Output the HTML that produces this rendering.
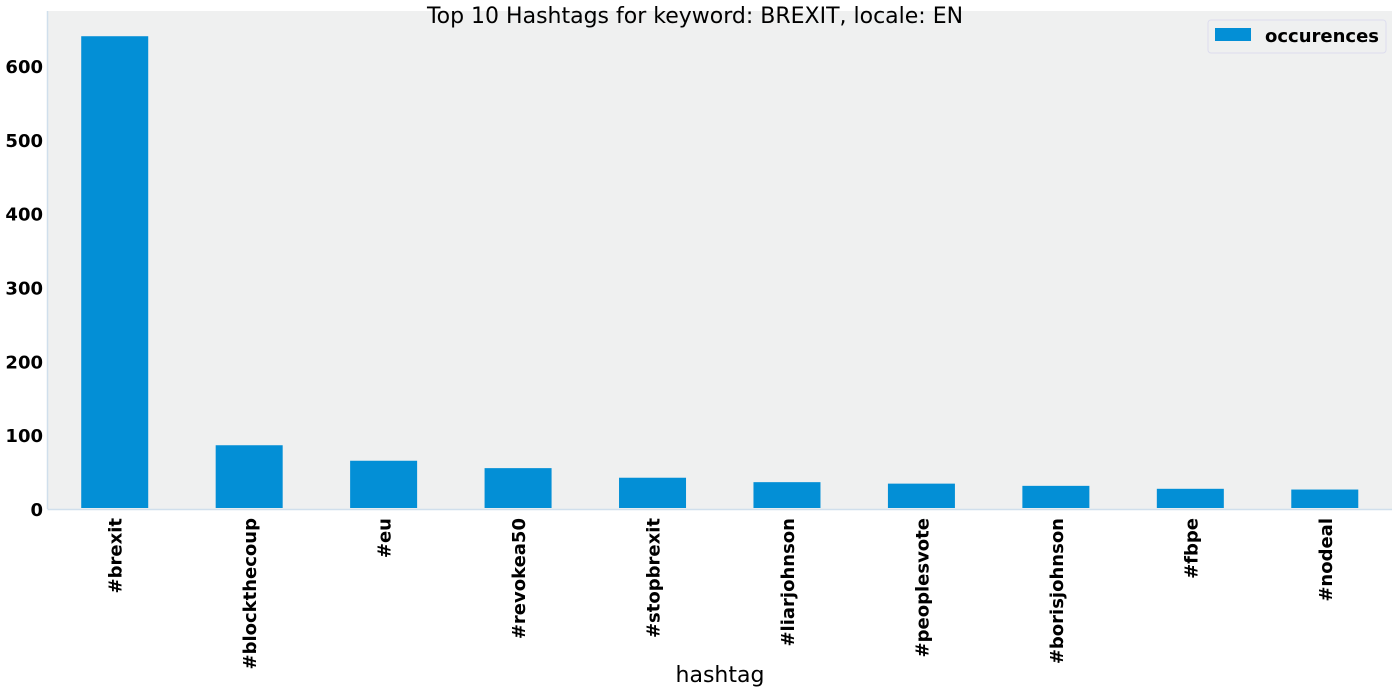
<!DOCTYPE html>
<html><head><meta charset="utf-8"><style>
body{margin:0;background:#fff;}
svg text{font-family:"DejaVu Sans","Liberation Sans",sans-serif;}
</style></head><body>
<svg id="chart" width="1400" height="693" xmlns="http://www.w3.org/2000/svg">
<rect x="47.5" y="11" width="1344.5" height="498" fill="#eff0f0"/>
<line x1="47.5" y1="11" x2="47.5" y2="509" stroke="#d0dfec" stroke-width="1.5"/>
<line x1="47.5" y1="509.5" x2="1392" y2="509.5" stroke="#d0dfec" stroke-width="1.5"/>
<g id="bars"></g><g id="yticks"></g><g id="xticks"></g>
<text x="695" y="23" font-size="22" text-anchor="middle" fill="#000">Top 10 Hashtags for keyword: BREXIT, locale: EN</text>
<text x="720" y="682" font-size="22" text-anchor="middle" fill="#000">hashtag</text>
<g>
<rect x="1208" y="20" width="178" height="33" rx="3" fill="#eff0f0" stroke="#dde" stroke-width="1"/>
<rect x="1215" y="28" width="36" height="13" fill="#038fd6"/>
<text x="1265" y="42" font-size="18" font-weight="bold" fill="#000">occurences</text>
</g>
</svg>
<script>
const categories=["#brexit","#blockthecoup","#eu","#revokea50","#stopbrexit","#liarjohnson","#peoplesvote","#borisjohnson","#fbpe","#nodeal"];
const values=[639,85,64,54,41,35,33,30,26,25];
const yTicks=[0,100,200,300,400,500,600];
const NS="http://www.w3.org/2000/svg";
const x0=47.5,step=134.45,y0=508,scale=0.7383,bw=67;
function xs(i){return x0+step*(i+0.5);}
function ys(v){return y0-v*scale;}
const bars=document.getElementById('bars'),yt=document.getElementById('yticks'),xt=document.getElementById('xticks');
values.forEach((v,i)=>{
const r=document.createElementNS(NS,'rect');


r.setAttribute('x',xs(i)-bw/2);r.setAttribute('y',ys(v));r.setAttribute('width',bw);r.setAttribute('height',y0-ys(v));r.setAttribute('fill','#038fd6');
bars.appendChild(r);
const t=document.createElementNS(NS,'text');


const cx=xs(i)+7,cy=518;
t.setAttribute('x',cx);t.setAttribute('y',cy);t.setAttribute('transform','rotate(-90 '+cx+' '+cy+')');
t.setAttribute('text-anchor','end');t.setAttribute('font-size','18');t.setAttribute('font-weight','bold');
t.textContent=categories[i];xt.appendChild(t);
});
yTicks.forEach(v=>{
const t=document.createElementNS(NS,'text');


t.setAttribute('x',43);t.setAttribute('y',ys(v)+8);t.setAttribute('text-anchor','end');t.setAttribute('font-size','18');t.setAttribute('font-weight','bold');
t.textContent=v;yt.appendChild(t);
});
</script>
</body></html>
